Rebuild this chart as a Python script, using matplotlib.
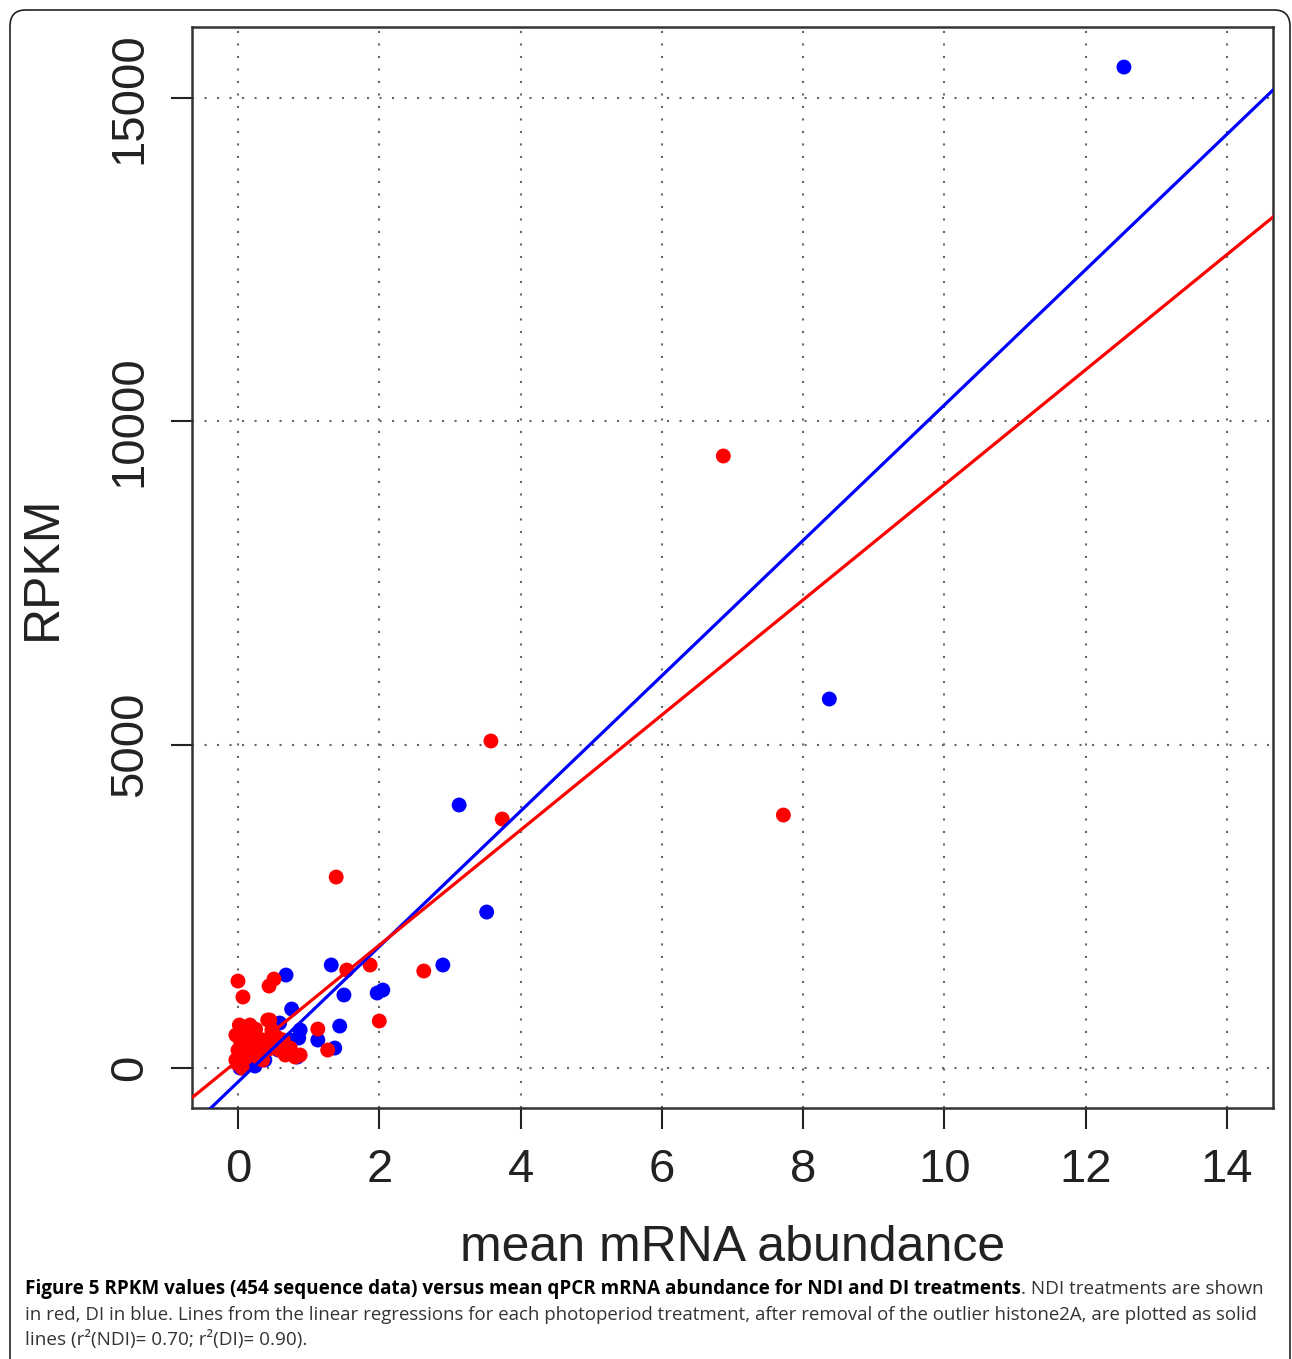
import numpy as np
import matplotlib.pyplot as plt
from matplotlib.patches import FancyBboxPatch

plt.rcParams['font.family'] = ['Liberation Sans', 'DejaVu Sans']

# NDI treatments (red)
ndi_x = [6.87, 3.58, 3.74, 7.72, 1.39, 2.63, 1.87, 1.54, 2.00, 1.27, 1.13,
         0.00, 0.07, 0.51, 0.44, 0.02, 0.45,
         -0.03, 0.00, 0.03, 0.07, 0.14, 0.20, 0.25, 0.31, 0.38, 0.42, 0.48,
         0.52, 0.59, 0.67, 0.74, 0.81, 0.88, 0.64, 0.00, 0.06, 0.17, -0.03,
         0.35, 0.10, 0.28, 0.56, 0.70,
         0.10, 0.20, 0.15, 0.30, 0.45, 0.60, 0.75, 0.05, 0.25]
ndi_y = [9464, 5057, 3850, 3912, 2953, 1500, 1593, 1515, 727, 278, 603,
         1345, 1098, 1376, 1268, 665, 742,
         124, 278, 433, 588, 356, 201, 510, 309, 433, 742, 588,
         356, 278, 201, 309, 170, 201, 433, 62, 0, 665, 510,
         124, 150, 420, 470, 250,
         400, 450, 250, 150, 300, 380, 220, 350, 600]

# DI treatments (blue)
di_x = [12.54, 8.37, 3.13, 3.52, 2.90, 1.32, 0.68, 1.50, 1.97, 2.05, 0.76,
        1.44, 1.13, 1.37, 0.86, 0.84, 0.59, 0.03, 0.24, 0.38, 0.57, 0.74,
        0.88, 0.14]
di_y = [15478, 5706, 4067, 2412, 1593, 1593, 1438, 1129, 1160, 1206, 912,
        649, 433, 309, 464, 170, 696, 0, 31, 124, 278, 433,
        588, 155]

# regression lines (slope, intercept)
ndi_fit = [890, 120]
di_fit = [1047, -216]

x_ticks = [0, 2, 4, 6, 8, 10, 12, 14]
y_ticks = [0, 5000, 10000, 15000]

fig = plt.figure(figsize=(12.92, 13.59), dpi=100)
ax = fig.add_axes([0.1486, 0.1847, 0.8367, 0.7954])

ax.scatter(di_x, di_y, s=115, color='blue', edgecolors='none', zorder=3)
ax.scatter(ndi_x, ndi_y, s=115, color='red', edgecolors='none', zorder=3)

xl = np.array([-0.651, 14.65])
ax.plot(xl, di_fit[0] * xl + di_fit[1], color='blue', lw=2.3, zorder=4)
ax.plot(xl, ndi_fit[0] * xl + ndi_fit[1], color='red', lw=2.3, zorder=4)

ax.set_xlim(-0.651, 14.65)
ax.set_ylim(-618, 16097)
ax.set_xticks(x_ticks)
ax.set_yticks(y_ticks)
ax.set_yticklabels([str(v) for v in y_ticks], rotation=90, va='center')
ax.tick_params(length=15, width=1.5, labelsize=34, colors='#222222')
ax.tick_params(axis='x', pad=14)
ax.tick_params(axis='y', pad=14)
ax.grid(True, linestyle=(0, (1, 5)), color='#666666', linewidth=1.5, zorder=0)
for sp in ax.spines.values():
    sp.set_linewidth(1.8)
    sp.set_color('#333333')

ax.set_xlabel('mean mRNA abundance', fontsize=36, color='#222222')
ax.set_ylabel('RPKM', fontsize=36, color='#222222')
ax.xaxis.set_label_coords(0.5, -0.108)
ax.yaxis.set_label_coords(-0.117, 0.5)

# outer frame
frame = FancyBboxPatch((10 / 1292, -0.05), 1280 / 1292, 1.05 - 10 / 1359,
                       boxstyle='round,pad=0,rounding_size=0.012',
                       transform=fig.transFigure, facecolor='none',
                       edgecolor='#222222', linewidth=1.2, clip_on=False)
fig.patches.append(frame)

# caption
cap_font = ['Open Sans', 'DejaVu Sans']
cap_size = 13.6
r = fig.canvas.get_renderer()
t1 = fig.text(25 / 1292, 1 - 1289 / 1359,
              'Figure 5 RPKM values (454 sequence data) versus mean qPCR mRNA abundance for NDI and DI treatments',
              fontsize=cap_size, fontweight='bold', family=cap_font, va='center', ha='left')
bb = t1.get_window_extent(renderer=r)
fig.text(bb.x1 / fig.bbox.width, 1 - 1289 / 1359, '. NDI treatments are shown',
         fontsize=cap_size, family=cap_font, va='center', ha='left', color='#333333')
fig.text(25 / 1292, 1 - 1315 / 1359,
         'in red, DI in blue. Lines from the linear regressions for each photoperiod treatment, after removal of the outlier histone2A, are plotted as solid',
         fontsize=cap_size - 0.2, family=cap_font, va='center', ha='left', color='#333333')
fig.text(25 / 1292, 1 - 1340 / 1359,
         'lines (r\u00b2(NDI)= 0.70; r\u00b2(DI)= 0.90).',
         fontsize=cap_size, family=cap_font, va='center', ha='left', color='#333333')

fig.savefig('out.png', dpi=100)
